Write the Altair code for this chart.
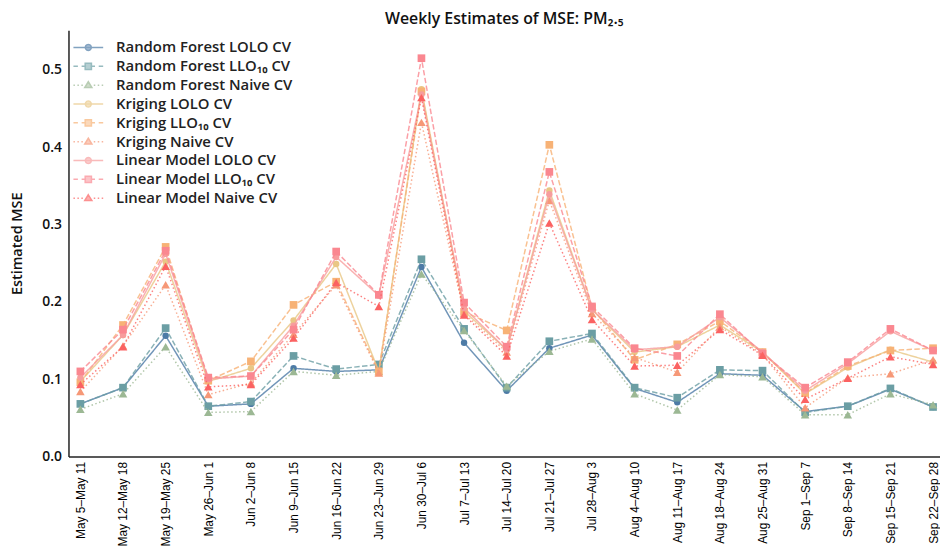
import json
import math
import altair as alt
import pandas as pd

weeks = ["May 5–May 11", "May 12–May 18", "May 19–May 25", "May 26–Jun 1",
         "Jun 2–Jun 8", "Jun 9–Jun 15", "Jun 16–Jun 22", "Jun 23–Jun 29",
         "Jun 30–Jul 6", "Jul 7–Jul 13", "Jul 14–Jul 20", "Jul 21–Jul 27",
         "Jul 28–Aug 3", "Aug 4–Aug 10", "Aug 11–Aug 17", "Aug 18–Aug 24",
         "Aug 25–Aug 31", "Sep 1–Sep 7", "Sep 8–Sep 14", "Sep 15–Sep 21",
         "Sep 22–Sep 28"]

series_names = ["Random Forest LOLO CV", "Random Forest LLO₁₀ CV", "Random Forest Naive CV",
                "Kriging LOLO CV", "Kriging LLO₁₀ CV", "Kriging Naive CV",
                "Linear Model LOLO CV", "Linear Model LLO₁₀ CV", "Linear Model Naive CV"]

rf_lolo = [0.068, 0.089, 0.156, 0.065, 0.068, 0.114, 0.110, 0.112, 0.245, 0.147, 0.085,
           0.140, 0.157, 0.088, 0.070, 0.107, 0.105, 0.058, 0.065, 0.087, 0.064]
rf_llo = [0.068, 0.089, 0.166, 0.065, 0.071, 0.130, 0.113, 0.119, 0.255, 0.165, 0.089,
          0.149, 0.159, 0.089, 0.076, 0.112, 0.111, 0.057, 0.065, 0.088, 0.064]
rf_naive = [0.061, 0.081, 0.142, 0.057, 0.058, 0.110, 0.105, 0.110, 0.236, 0.163, 0.091,
            0.136, 0.152, 0.081, 0.060, 0.106, 0.103, 0.054, 0.054, 0.081, 0.067]
kr_lolo = [0.097, 0.157, 0.252, 0.097, 0.114, 0.176, 0.249, 0.110, 0.475, 0.188, 0.138,
           0.344, 0.190, 0.135, 0.142, 0.170, 0.135, 0.081, 0.115, 0.138, 0.122]
kr_llo = [0.096, 0.170, 0.271, 0.098, 0.123, 0.196, 0.226, 0.110, 0.472, 0.187, 0.163,
          0.403, 0.192, 0.125, 0.145, 0.175, 0.135, 0.082, 0.117, 0.137, 0.140]
kr_naive = [0.084, 0.143, 0.222, 0.080, 0.095, 0.158, 0.222, 0.108, 0.432, 0.185, 0.135,
            0.331, 0.185, 0.128, 0.109, 0.168, 0.132, 0.063, 0.102, 0.107, 0.125]
lm_lolo = [0.102, 0.157, 0.262, 0.100, 0.104, 0.169, 0.258, 0.208, 0.468, 0.192, 0.138,
           0.339, 0.190, 0.138, 0.142, 0.180, 0.135, 0.085, 0.120, 0.162, 0.137]
lm_llo = [0.110, 0.164, 0.266, 0.102, 0.104, 0.164, 0.265, 0.209, 0.515, 0.199, 0.142,
          0.368, 0.194, 0.140, 0.130, 0.184, 0.133, 0.089, 0.122, 0.165, 0.137]
lm_naive = [0.093, 0.142, 0.246, 0.090, 0.093, 0.153, 0.225, 0.194, 0.464, 0.183, 0.130,
            0.302, 0.177, 0.117, 0.118, 0.164, 0.131, 0.074, 0.101, 0.129, 0.119]

series_values = [rf_lolo, rf_llo, rf_naive, kr_lolo, kr_llo, kr_naive, lm_lolo, lm_llo, lm_naive]
colors = ["#4d7ba6", "#6b9ea4", "#9cb894", "#e9c785", "#f7b276", "#f69877",
          "#f79d9d", "#fa8790", "#fb6262"]
cv_kind = ["LOLO", "LLO", "Naive"] * 3

rows = []
for name, vals in zip(series_names, series_values):
    for i, v in enumerate(vals):
        rows.append({"week": i, "series": name, "mse": v})
df = pd.DataFrame(rows)

label_expr = json.dumps(weeks, ensure_ascii=False) + "[datum.value]"

FONT = "Open Sans"

x_enc = alt.X("week:Q",
              scale=alt.Scale(domain=[-0.279, 20.163], nice=False, zero=False),
              axis=alt.Axis(values=list(range(len(weeks))), labelExpr=label_expr, title=None,
                            grid=False, ticks=False, labelAngle=270, labelFont="Liberation Sans",
                            labelFontSize=12, labelColor="#000", labelPadding=5,
                            labelFlush=False, labelOverlap=False, labelLimit=200,
                            domainColor="#222", domainWidth=1.5))
y_enc = alt.Y("mse:Q",
              scale=alt.Scale(domain=[0, 0.5513], nice=False, zero=True),
              axis=alt.Axis(values=[0, 0.1, 0.2, 0.3, 0.4, 0.5], format=".1f",
                            title="Estimated MSE", grid=False, ticks=False,
                            labelFont=FONT, labelFontSize=14, labelFontWeight=600,
                            labelColor="#111", labelPadding=7,
                            domainColor="#222", domainWidth=1.5,
                            titleFont=FONT, titleFontSize=14.5, titleFontWeight=600,
                            titleColor="#111", titleAngle=270, titleX=-51, titleY=215,
                            titleAlign="center", titleBaseline="middle"))

base = alt.Chart(df).encode(x=x_enc, y=y_enc)

dash_styles = {"LOLO": [1, 0], "LLO": [5.5, 2.4], "Naive": [1.5, 2.5]}
shape_styles = {"LOLO": ("circle", 42), "LLO": ("square", 60), "Naive": ("triangle-up", 75)}

layers = []
for name, col, kind in zip(series_names, colors, cv_kind):
    sub = base.transform_filter(alt.datum.series == name)
    line = sub.mark_line(color=col, strokeWidth=1.5, opacity=0.8,
                         strokeDash=dash_styles[kind])
    shp, sz = shape_styles[kind]
    pts = sub.mark_point(filled=True, color=col, shape=shp, size=sz, opacity=1)
    layers += [line, pts]


# legend symbols: line segment + marker, in unit coordinates
def fmt(v):
    return ("%.3f" % v).rstrip("0").rstrip(".")


def circle_path(r, n=24):
    pts = [(r * math.cos(2 * math.pi * k / n), r * math.sin(2 * math.pi * k / n)) for k in range(n)]
    return "M" + "L".join(f"{fmt(a)},{fmt(b)}" for a, b in pts) + "Z"


def segs(pairs):
    return "".join(f"M{fmt(a)},0L{fmt(b)},0" for a, b in pairs)


line_parts = {
    "LOLO": segs([(-1, 1)]),
    "LLO": segs([(-1, -0.7), (-0.45, -0.15), (0.15, 0.45), (0.7, 1)]),
    "Naive": segs([(-1, -0.9), (-0.733, -0.633), (-0.467, -0.367), (0.367, 0.467),
                   (0.633, 0.733), (0.9, 1)]),
}
marker_parts = {
    "LOLO": circle_path(0.2),
    "LLO": "M-0.21,-0.21L0.21,-0.21L0.21,0.21L-0.21,0.21Z",
    "Naive": "M0,-0.23L0.24,0.16L-0.24,0.16Z",
}
legend_paths = [line_parts[k] + marker_parts[k] for k in cv_kind]

leg = alt.Legend(title=None, orient="none", legendX=4, legendY=8, padding=0,
                 symbolSize=900, symbolStrokeWidth=1.5, clipHeight=19, rowPadding=0,
                 labelOffset=12, labelFont=FONT, labelFontSize=15, labelFontWeight=600,
                 labelColor="#222", labelLimit=400)

legend_layer = base.transform_filter("false").mark_point(filled=True, strokeWidth=1.5).encode(
    fill=alt.Fill("series:N", scale=alt.Scale(domain=series_names, range=colors), legend=leg),
    stroke=alt.Stroke("series:N", scale=alt.Scale(domain=series_names, range=colors), legend=leg),
    shape=alt.Shape("series:N", scale=alt.Scale(domain=series_names, range=legend_paths), legend=leg),
)

chart = alt.layer(*layers, legend_layer).properties(
    width=879, height=430,
    title=alt.TitleParams(text="Weekly Estimates of MSE: PM₂.₅", font=FONT, fontSize=16,
                          fontWeight=600, color="#111", anchor="middle", offset=8,
                          baseline="alphabetic", dy=18),
    autosize=alt.AutoSizeParams(type="none"),
    padding={"left": 61, "top": 20, "right": 0, "bottom": 92},
    background="white",
).configure_view(stroke=None)

chart.save("out.html", embed_options={"renderer": "svg", "actions": False})
